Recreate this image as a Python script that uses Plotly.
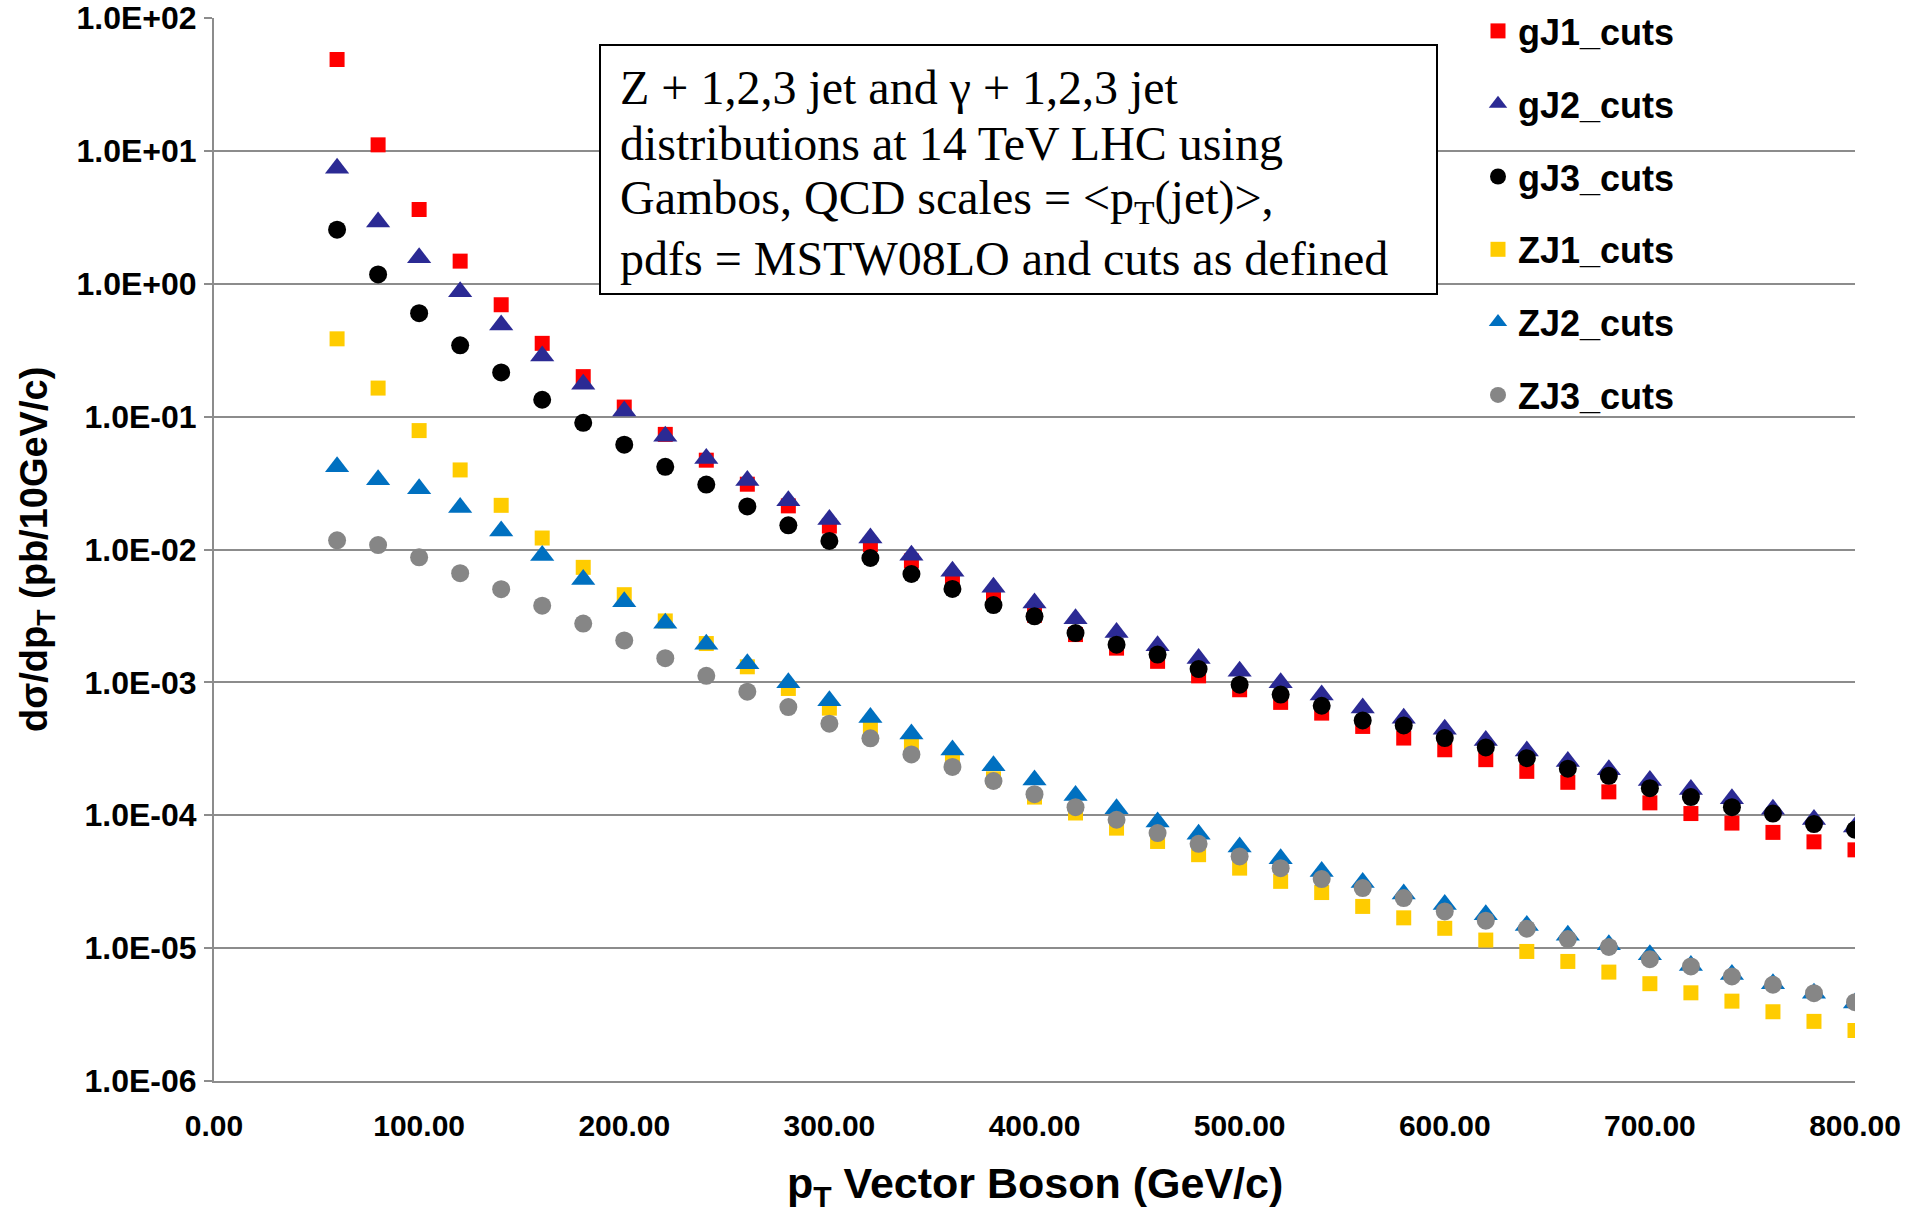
import plotly.graph_objects as go

# Vector boson transverse momentum (GeV/c), bin centres
pt = [60, 80, 100, 120, 140, 160, 180, 200, 220, 240, 260, 280, 300, 320, 340,
      360, 380, 400, 420, 440, 460, 480, 500, 520, 540, 560, 580, 600, 620, 640,
      660, 680, 700, 720, 740, 760, 780, 800]

# d(sigma)/d(pT) in pb per 10 GeV/c
gJ1_cuts = [48.7, 11.1, 3.62, 1.48, 0.695, 0.356, 0.200, 0.118, 0.0735, 0.0470,
            0.0310, 0.0213, 0.0150, 0.0109, 0.0082, 0.0061, 0.0046, 0.0032,
            0.00229, 0.00181, 0.00144, 0.00112, 0.00088, 0.000707, 0.000587,
            0.000466, 0.000381, 0.000311, 0.000262, 0.000214, 0.000177,
            0.000150, 0.000124, 0.000103, 8.73e-5, 7.43e-5, 6.31e-5, 5.49e-5]

gJ2_cuts = [7.41, 2.91, 1.57, 0.871, 0.49, 0.286, 0.175, 0.110, 0.0713, 0.0483,
            0.0330, 0.0233, 0.0168, 0.0122, 0.00904, 0.00685, 0.00519, 0.00395,
            0.00301, 0.00237, 0.00189, 0.00151, 0.00121, 0.000994, 0.000803,
            0.000641, 0.000536, 0.000443, 0.000366, 0.000304, 0.000254,
            0.000220, 0.000183, 0.000156, 0.000133, 0.000111, 9.3e-5, 8.15e-5]

gJ3_cuts = [2.55, 1.175, 0.601, 0.344, 0.215, 0.134, 0.0898, 0.0615, 0.0419,
            0.0308, 0.0211, 0.0152, 0.0116, 0.00863, 0.00654, 0.00505, 0.00382,
            0.00314, 0.00235, 0.00192, 0.00162, 0.00126, 0.00096, 0.00081,
            0.000667, 0.000517, 0.000474, 0.000381, 0.000324, 0.000269,
            0.000224, 0.000198, 0.000160, 0.000137, 0.000115, 0.000103,
            8.59e-5, 7.78e-5]

ZJ1_cuts = [0.385, 0.164, 0.0785, 0.0397, 0.0215, 0.0122, 0.00734, 0.00457,
            0.00290, 0.00196, 0.00131, 0.00090, 0.00064, 0.000455, 0.000343,
            0.000255, 0.000188, 0.000137, 1.04e-4, 8.0e-5, 6.35e-5, 5.05e-5,
            4.0e-5, 3.18e-5, 2.62e-5, 2.06e-5, 1.69e-5, 1.41e-5, 1.15e-5,
            9.44e-6, 7.94e-6, 6.6e-6, 5.4e-6, 4.61e-6, 3.99e-6, 3.32e-6,
            2.81e-6, 2.40e-6]

ZJ2_cuts = [0.0420, 0.0335, 0.0287, 0.0207, 0.0138, 0.0090, 0.00594, 0.00405,
            0.00278, 0.00194, 0.00138, 0.000994, 0.000728, 0.000545, 0.000409,
            0.000310, 0.000236, 0.000184, 1.41e-4, 1.12e-4, 8.9e-5, 7.18e-5,
            5.76e-5, 4.71e-5, 3.78e-5, 3.12e-5, 2.56e-5, 2.13e-5, 1.78e-5,
            1.48e-5, 1.25e-5, 1.06e-5, 8.9e-6, 7.4e-6, 6.34e-6, 5.4e-6,
            4.58e-6, 3.86e-6]

ZJ3_cuts = [0.01172, 0.0108, 0.00874, 0.00664, 0.00503, 0.00378, 0.00277,
            0.00207, 0.00152, 0.00112, 0.000851, 0.000652, 0.000489, 0.000379,
            0.000287, 0.000231, 0.000181, 0.000144, 1.15e-4, 9.25e-5, 7.34e-5,
            6.1e-5, 4.9e-5, 4.0e-5, 3.31e-5, 2.83e-5, 2.38e-5, 1.89e-5,
            1.61e-5, 1.40e-5, 1.17e-5, 1.02e-5, 8.26e-6, 7.28e-6, 6.12e-6,
            5.3e-6, 4.58e-6, 3.92e-6]

# Log-axis ticks and their Excel-style labels
y_tickvals = [1e-6, 1e-5, 1e-4, 1e-3, 1e-2, 1e-1, 1e0, 1e1, 1e2]
y_ticktext = ["1.0E-06", "1.0E-05", "1.0E-04", "1.0E-03", "1.0E-02",
              "1.0E-01", "1.0E+00", "1.0E+01", "1.0E+02"]

# Lines of the process description box
info_lines = [
    "Z + 1,2,3 jet and γ + 1,2,3 jet",
    "distributions at 14 TeV LHC using",
    "Gambos, QCD scales = &lt;p<sub>T</sub>(jet)&gt;,",
    "pdfs = MSTW08LO and cuts as defined",
]

series = [
    ("gJ1_cuts", gJ1_cuts, "square", "#FF0000", 15),
    ("gJ2_cuts", gJ2_cuts, "triangle-up", "#2B2A94", 21),
    ("gJ3_cuts", gJ3_cuts, "circle", "#000000", 18),
    ("ZJ1_cuts", ZJ1_cuts, "square", "#FFCC00", 15),
    ("ZJ2_cuts", ZJ2_cuts, "triangle-up", "#0070C0", 21),
    ("ZJ3_cuts", ZJ3_cuts, "circle", "#868686", 18),
]

SANS = "Liberation Sans, Arial, sans-serif"
SERIF = "Liberation Serif, Times New Roman, serif"
GRID = "#8C8C8C"

fig = go.Figure()
for name, vals, sym, col, size in series:
    fig.add_trace(go.Scatter(
        x=pt, y=vals, mode="markers", name=name, legendgroup=name,
        marker=dict(symbol=sym, color=col, size=size, line=dict(width=0)),
    ))

W, H = 1906, 1213
ML, MR, MT, MB = 214, 51, 18, 132
PW, PH = W - ML - MR, H - MT - MB


def px_x(x):
    return (x - ML) / PW


def px_y(y):
    return 1 - (y - MT) / PH


fig.update_layout(
    width=W, height=H,
    margin=dict(l=ML, r=MR, t=MT, b=MB, pad=0, autoexpand=False),
    paper_bgcolor="white", plot_bgcolor="white",
    font=dict(family=SANS, color="black"),
    showlegend=True,
    legend=dict(
        xref="container", yref="container",
        x=1478 / W, y=1 - 1 / H, xanchor="left", yanchor="top",
        bgcolor="rgba(0,0,0,0)", borderwidth=0,
        font=dict(family=SANS, size=36, weight="bold", color="black"),
        tracegroupgap=23, itemsizing="trace",
    ),
    xaxis=dict(
        range=[0, 800], tickmode="linear", tick0=0, dtick=100,
        tickformat=".2f", showgrid=False, zeroline=False,
        showline=True, linecolor=GRID, linewidth=2,
        ticks="outside", ticklen=17, tickcolor="rgba(0,0,0,0)",
        tickfont=dict(family=SANS, size=30, weight="bold", color="black"),
    ),
    yaxis=dict(
        type="log", range=[-6, 2], tickmode="array",
        tickvals=y_tickvals, ticktext=y_ticktext,
        showgrid=True, gridcolor=GRID, gridwidth=2, zeroline=False,
        showline=True, linecolor=GRID, linewidth=2,
        ticks="outside", ticklen=8, tickcolor=GRID, tickwidth=2,
        ticklabelstandoff=1,
        tickfont=dict(family=SANS, size=32, weight="bold", color="black"),
    ),
)

# Axis titles
fig.add_annotation(
    x=px_x(1035), y=px_y(1186), xref="paper", yref="paper",
    xanchor="center", yanchor="middle", showarrow=False,
    text="p<sub>T</sub> Vector Boson (GeV/c)",
    font=dict(family=SANS, size=43, weight="bold", color="black"),
)
fig.add_annotation(
    x=px_x(37), y=px_y(550), xref="paper", yref="paper",
    xanchor="center", yanchor="middle", showarrow=False, textangle=-90,
    text="dσ/dp<sub>T</sub> (pb/10GeV/c)",
    font=dict(family=SANS, size=38, weight="bold", color="black"),
)

# Process description box
fig.add_shape(
    type="rect", xref="paper", yref="paper",
    x0=px_x(600), x1=px_x(1437), y0=px_y(45), y1=px_y(294),
    fillcolor="white", line=dict(color="black", width=2), layer="above",
)
line_centres = [87, 143, 201, 258]
for txt, yc in zip(info_lines, line_centres):
    fig.add_annotation(
        x=px_x(618), y=px_y(yc), xref="paper", yref="paper",
        xanchor="left", yanchor="middle", showarrow=False, align="left",
        text=txt, font=dict(family=SERIF, size=48, color="black"),
    )

fig.write_html("out.html")
